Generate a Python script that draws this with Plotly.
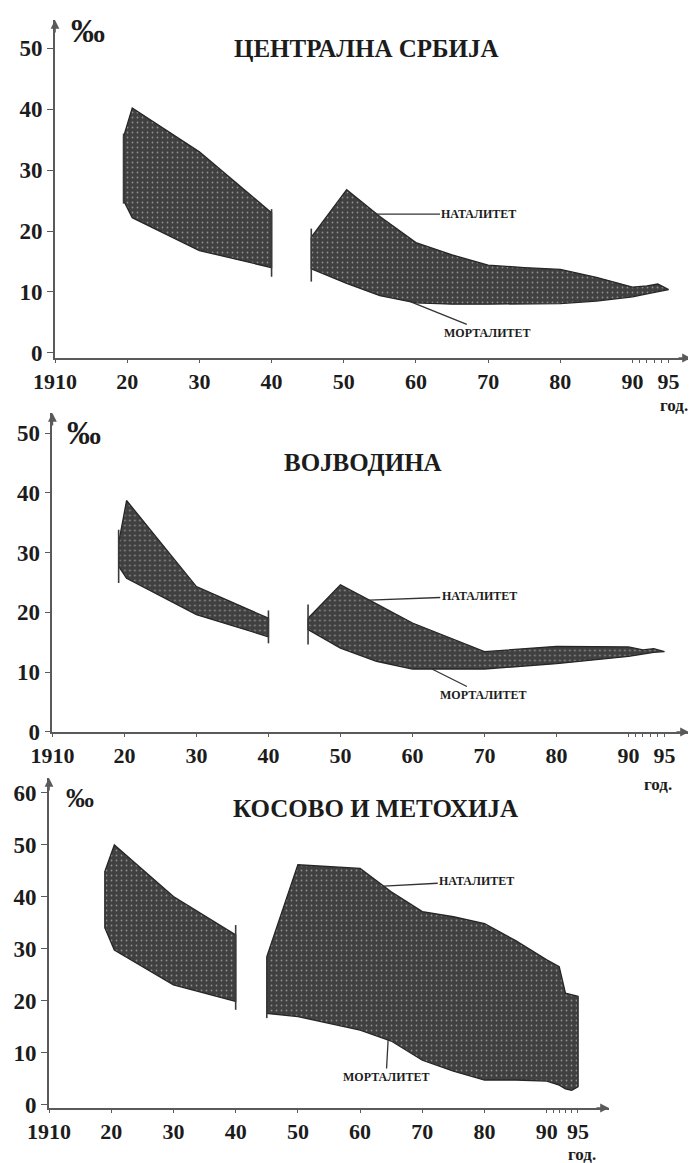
import numpy as np
import plotly.graph_objects as go

# ---------------- data (‰) ----------------
# Централна Србија
cs_years_a = [1919.5, 1920.7, 1930, 1940]
cs_nat_a = [35.5, 40.2, 33.0, 23.0]
cs_mort_a = [25.0, 22.2, 16.8, 14.0]
cs_years_b = [1945.5, 1950.4, 1955, 1960, 1965, 1970, 1975, 1980, 1985, 1990, 1992, 1993.5, 1995]
cs_nat_b = [19.0, 26.8, 22.4, 18.1, 16.1, 14.4, 14.0, 13.7, 12.4, 10.8, 11.0, 11.3, 10.4]
cs_mort_b = [13.8, 11.4, 9.4, 8.2, 8.0, 8.0, 8.0, 8.1, 8.5, 9.2, 9.7, 10.1, 10.4]
cs_break_x = [1919.5, 1940, 1945.5]
cs_break_top = [36.0, 23.6, 20.4]
cs_break_bot = [24.5, 12.5, 11.7]

# Војводина
vo_years_a = [1919.2, 1920.3, 1930, 1940]
vo_nat_a = [31.6, 38.7, 24.3, 19.0]
vo_mort_a = [27.7, 25.7, 19.6, 15.9]
vo_years_b = [1945.5, 1950, 1955, 1960, 1970, 1980, 1990, 1992, 1993.5, 1995]
vo_nat_b = [19.0, 24.6, 21.4, 18.2, 13.4, 14.3, 14.2, 13.7, 13.9, 13.4]
vo_mort_b = [17.1, 14.0, 11.8, 10.5, 10.5, 11.4, 12.6, 13.0, 13.3, 13.4]
vo_break_x = [1919.2, 1940, 1945.5]
vo_break_top = [33.8, 20.3, 21.3]
vo_break_bot = [24.9, 14.8, 14.6]

# Косово и Метохија
km_years_a = [1919, 1920.5, 1930, 1940]
km_nat_a = [45.0, 50.0, 40.1, 32.7]
km_mort_a = [34.0, 29.8, 23.1, 19.9]
km_years_b = [1945, 1950, 1960, 1965, 1970, 1975, 1980, 1985, 1990, 1992, 1993, 1994, 1995]
km_nat_b = [28.5, 46.2, 45.5, 41.0, 37.2, 36.2, 34.9, 31.6, 27.9, 26.6, 21.5, 21.2, 20.9]
km_mort_b = [17.6, 17.0, 14.4, 12.3, 8.6, 6.5, 4.8, 4.8, 4.6, 3.8, 3.1, 2.8, 3.5]
km_break_x = [1919, 1940, 1945, 1995]
km_break_top = [45.0, 34.6, 28.5, 20.9]
km_break_bot = [34.0, 18.3, 16.7, 3.5]

x_tickvals = [1910, 1920, 1930, 1940, 1950, 1960, 1970, 1980, 1990, 1995]
x_ticktext = ["1910", "20", "30", "40", "50", "60", "70", "80", "90", "95"]
x_minor = [1991, 1992, 1993, 1994]

titles = ["ЦЕНТРАЛНА СРБИЈА", "ВОЈВОДИНА", "КОСОВО И МЕТОХИЈА"]
label_nat = "НАТАЛИТЕТ"
label_mort = "МОРТАЛИТЕТ"
unit = "‰"
year_label = "год."

# ---------------- figure ----------------
# the page body has an 8px default margin: the figure is drawn 8px in from the top-left
OFF = 8
PW, PH = 696, 1163
W, H = PW - OFF, PH - OFF
FONT = "Liberation Serif"
INK = "#1c1c1c"
AXC = "#5a5a5a"


def fx(px):
    return (px - OFF) / W


def fy(py):
    return 1 - (py - OFF) / H


fig = go.Figure()

panels = [
    dict(a=(cs_years_a, cs_nat_a, cs_mort_a), b=(cs_years_b, cs_nat_b, cs_mort_b),
         br=(cs_break_x, cs_break_top, cs_break_bot), xs="x", ys="y"),
    dict(a=(vo_years_a, vo_nat_a, vo_mort_a), b=(vo_years_b, vo_nat_b, vo_mort_b),
         br=(vo_break_x, vo_break_top, vo_break_bot), xs="x2", ys="y2"),
    dict(a=(km_years_a, km_nat_a, km_mort_a), b=(km_years_b, km_nat_b, km_mort_b),
         br=(km_break_x, km_break_top, km_break_bot), xs="x3", ys="y3"),
]

pattern = dict(shape=".", bgcolor="#404040", fgcolor="#e0e0e0", size=5, solidity=0.1)

for p in panels:
    for key in ("a", "b"):
        yrs, nat, mort = p[key]
        px = list(yrs) + list(yrs[::-1]) + [yrs[0]]
        py = list(nat) + list(mort[::-1]) + [nat[0]]
        fig.add_trace(go.Scatter(
            x=px, y=py, mode="lines", fill="toself",
            fillpattern=pattern, fillcolor="#404040",
            line=dict(color="#262626", width=1.3),
            xaxis=p["xs"], yaxis=p["ys"], showlegend=False, hoverinfo="skip"))
    bx, bt, bb = p["br"]
    lx, ly = [], []
    for xv, t, b in zip(bx, bt, bb):
        lx += [xv, xv, None]
        ly += [t, b, None]
    fig.add_trace(go.Scatter(x=lx, y=ly, mode="lines",
                             line=dict(color="#3a3a3a", width=1.6),
                             xaxis=p["xs"], yaxis=p["ys"], showlegend=False, hoverinfo="skip"))

ytickfont = dict(family=FONT, size=23, color=INK, weight="bold")
xtickfont = dict(family=FONT, size=22, color=INK, weight="bold")

# domains in page pixels: (x_left, x_right, y_top, y_bottom)
dom = [
    (55, 691, 20, 358, [1910, 1998.1], [-0.84, 54.65], list(range(0, 51, 10))),
    (52.4, 689, 413, 732, [1910, 1998.4], [-0.04, 53.35], list(range(0, 51, 10))),
    (49, 609, 778, 1108, [1910, 2000.0], [-0.58, 62.88], list(range(0, 61, 10))),
]

for i, (xl, xr, yt, yb, xr_, yr_, ytv) in enumerate(dom):
    sfx = "" if i == 0 else str(i + 1)
    fig.layout["xaxis" + sfx] = dict(
        domain=[fx(xl), fx(xr)], range=xr_, anchor="y" + sfx, automargin=False,
        showline=True, linecolor=AXC, linewidth=1.6, showgrid=False, zeroline=False,
        tickvals=x_tickvals, ticktext=x_ticktext, ticks="outside", ticklen=3,
        tickcolor=AXC, tickwidth=1.3, tickfont=xtickfont,
        minor=dict(tickvals=x_minor, ticks="outside", ticklen=3, tickcolor=AXC, tickwidth=1))
    fig.layout["yaxis" + sfx] = dict(
        domain=[fy(yb), fy(yt)], range=yr_, anchor="x" + sfx, automargin=False,
        showline=True, linecolor=AXC, linewidth=1.6, showgrid=False, zeroline=False,
        tickvals=ytv, ticks="outside", ticklen=6, tickcolor=AXC, tickwidth=1.3,
        tickfont=ytickfont)

annotations = []
# axis arrowheads
for i, (xl, xr, yt, yb, xr_, yr_, ytv) in enumerate(dom):
    sfx = "" if i == 0 else str(i + 1)
    annotations.append(dict(xref="x" + sfx, yref="y" + sfx, x=xr_[1], y=yr_[0], ax=-14, ay=0,
                            text="", showarrow=True, arrowhead=2, arrowsize=1.1,
                            arrowwidth=1.6, arrowcolor=AXC))
    annotations.append(dict(xref="x" + sfx, yref="y" + sfx, x=xr_[0], y=yr_[1], ax=0, ay=14,
                            text="", showarrow=True, arrowhead=2, arrowsize=1.1,
                            arrowwidth=1.6, arrowcolor=AXC))

# titles, unit signs, year labels (page pixel positions)
title_pos = [(366, 48), (363, 462), (376, 808)]
unit_pos = [(88, 30), (84, 433), (80, 797)]
unit_size = [34, 34, 28]
year_pos = [(674, 406), (658, 784), (582, 1154)]
for i in range(3):
    tx, ty = title_pos[i]
    annotations.append(dict(xref="paper", yref="paper", x=fx(tx), y=fy(ty),
                            text=titles[i], showarrow=False, xanchor="center", yanchor="middle",
                            font=dict(family=FONT, size=25, color=INK, weight="bold")))
    ux, uy = unit_pos[i]
    annotations.append(dict(xref="paper", yref="paper", x=fx(ux), y=fy(uy),
                            text=unit, showarrow=False, xanchor="center", yanchor="middle",
                            font=dict(family=FONT, size=unit_size[i], color=INK, weight="bold")))
    gx, gy = year_pos[i]
    annotations.append(dict(xref="paper", yref="paper", x=fx(gx), y=fy(gy),
                            text=year_label, showarrow=False, xanchor="center", yanchor="middle",
                            font=dict(family=FONT, size=17, color=INK, weight="bold")))

# leader labels
lab_font = dict(family=FONT, size=12, color=INK, weight="bold")
leaders = [
    # (axis suffix, label, tip year, years, series, ax, ay)
    ("", label_nat, 1954.6, cs_years_b, cs_nat_b, 102, 0),
    ("", label_mort, 1959.3, cs_years_b, cs_mort_b, 77, 31),
    ("2", label_nat, 1954.0, vo_years_b, vo_nat_b, 110, -4),
    ("2", label_mort, 1962.7, vo_years_b, vo_mort_b, 52, 26),
    ("3", label_nat, 1963.8, km_years_b, km_nat_b, 93, -5),
    ("3", label_mort, 1964.5, km_years_b, km_mort_b, -2, 37),
]
for sfx, txt, ty, yrs, ser, ax, ay in leaders:
    annotations.append(dict(xref="x" + sfx, yref="y" + sfx, x=ty,
                            y=float(np.interp(ty, yrs, ser)),
                            ax=ax, ay=ay, text=txt, showarrow=True, arrowhead=0,
                            arrowwidth=1.3, arrowcolor="#333", font=lab_font))

fig.update_layout(
    width=W, height=H, margin=dict(l=0, r=0, t=0, b=0),
    paper_bgcolor="white", plot_bgcolor="white",
    annotations=annotations, showlegend=False)

fig.write_html("out.html")
